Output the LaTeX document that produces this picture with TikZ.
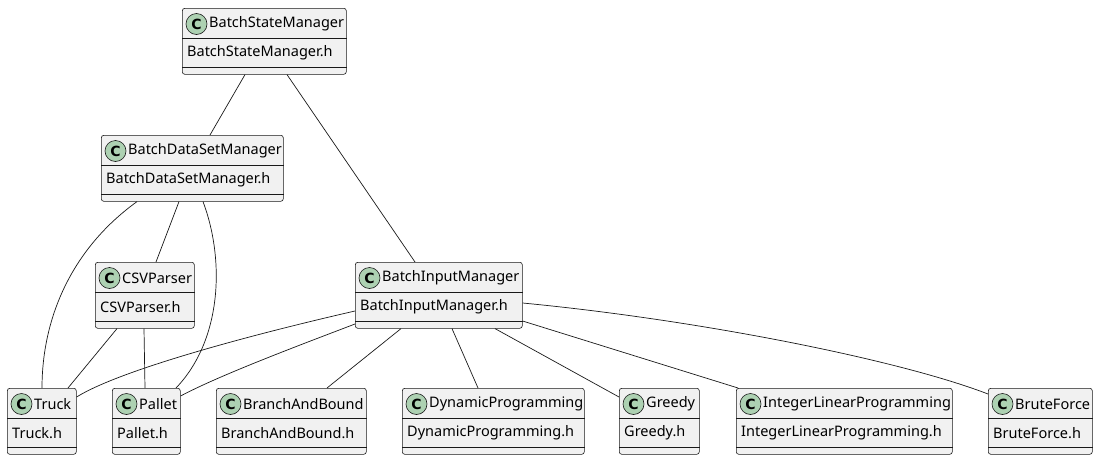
\documentclass[tikz,border=0pt]{standalone}
\usepackage{fontspec}
\setmainfont{Noto Sans}
\newfontfamily\iconfont{DejaVu Sans}
\tikzset{
  x=1pt, y=-1pt,
  classbox/.style={draw=black!90, fill=black!5.5, line width=0.6pt, rounded corners=2.5pt, minimum height=66pt, inner sep=0pt, anchor=north west},
  cicon/.style={circle, draw=black!90, fill=ciconfill, line width=0.6pt, minimum size=21pt, inner sep=0pt, font=\iconfont\fontsize{14}{14}\selectfont\bfseries},
  ctext/.style={anchor=west, inner sep=0pt, font=\fontsize{14.5}{17}\selectfont},
  sepline/.style={draw=black!90, line width=0.6pt},
  link/.style={draw=black!90, line width=0.7pt}
}
\definecolor{ciconfill}{HTML}{ADD1B2}
\newcommand{\umlclass}[6]{%
  \node[classbox, minimum width={(#4-#2)*1pt}] (#1) at (#2,#3) {};
  \draw[sepline] ([yshift=-30pt]#1.north west) -- ([yshift=-30pt]#1.north east);
  \draw[sepline] ([yshift=-59pt]#1.north west) -- ([yshift=-59pt]#1.north east);
  \node[cicon] (#1-c) at ([xshift=14.5pt,yshift=-16pt]#1.north west) {C};
  \node[ctext] (#1-t) at ([xshift=27pt,yshift=-16pt]#1.north west) {#5};
  \node[ctext] (#1-b) at ([xshift=5pt,yshift=-45pt]#1.north west) {#6};
}
\begin{document}
\begin{tikzpicture}
\useasboundingbox (0,0) rectangle (1098,461);
\umlclass{bsm}{182}{8}{346}{BatchStateManager}{BatchStateManager.h}
\umlclass{bdm}{101}{135}{283}{BatchDataSetManager}{BatchDataSetManager.h}
\umlclass{csv}{95}{262}{194}{CSVParser}{CSVParser.h}
\umlclass{bim}{355}{262}{522}{BatchInputManager}{BatchInputManager.h}
\umlclass{truck}{7}{388}{76}{Truck}{Truck.h}
\umlclass{pallet}{112}{388}{180}{Pallet}{Pallet.h}
\umlclass{bab}{216}{388}{366}{BranchAndBound}{BranchAndBound.h}
\umlclass{dp}{402}{388}{584}{DynamicProgramming}{DynamicProgramming.h}
\umlclass{greedy}{619}{388}{699}{Greedy}{Greedy.h}
\umlclass{ilp}{736}{388}{952}{IntegerLinearProgramming}{IntegerLinearProgramming.h}
\umlclass{bf}{988}{388}{1092}{BruteForce}{BruteForce.h}

\draw[link] ([xshift=63pt]bsm.south west) -- ([xshift=109pt]bdm.north west);
\draw[link] ([xshift=105pt]bsm.south west) -- ([xshift=60pt]bim.north west);
\draw[link] ([xshift=36pt]bdm.south west) .. controls (70,250) and (42,320) .. ([xshift=35pt]truck.north west);
\draw[link] ([xshift=78pt]bdm.south west) -- ([xshift=61pt]csv.north west);
\draw[link] ([xshift=102pt]bdm.south west) .. controls (225,260) and (222,340) .. ([xshift=64pt]pallet.north west);
\draw[link] ([xshift=22pt]csv.south west) -- ([xshift=61pt]truck.north west);
\draw[link] ([xshift=49pt]csv.south west) -- ([xshift=33pt]pallet.north west);
\draw[link] ([yshift=-49pt]bim.north west) .. controls (250,335) and (120,370) .. ([yshift=-9pt]truck.north east);
\draw[link] ([yshift=-62pt]bim.north west) .. controls (300,345) and (220,375) .. ([yshift=-8pt]pallet.north east);
\draw[link] ([xshift=46pt]bim.south west) -- ([xshift=111pt]bab.north west);
\draw[link] ([xshift=97pt]bim.south west) -- ([xshift=76pt]dp.north west);
\draw[link] ([xshift=140pt]bim.south west) -- ([yshift=-9pt]greedy.north west);
\draw[link] ([yshift=-59pt]bim.north east) -- ([xshift=2pt]ilp.north west);
\draw[link] ([yshift=-41pt]bim.north east) .. controls (700,320) and (900,360) .. ([yshift=-6pt]bf.north west);
\end{tikzpicture}
\end{document}
